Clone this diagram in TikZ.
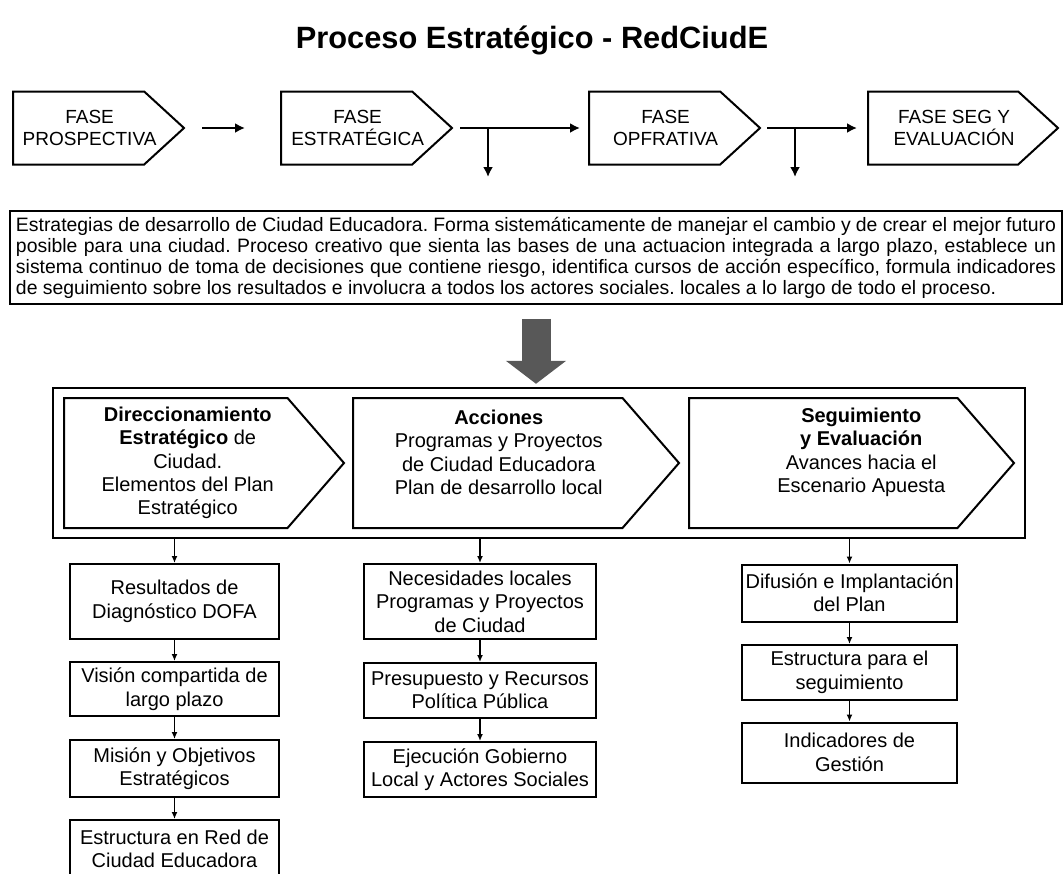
\documentclass[tikz,border=0pt]{standalone}
\usepackage{fontspec}
\setmainfont{Liberation Sans}
\usetikzlibrary{shapes.symbols,arrows.meta}

\definecolor{grisflecha}{RGB}{88,88,88}
\newcommand{\renglon}[1]{\makebox[520pt][s]{#1}}

\tikzset{
  fase/.style={signal, signal to=east, signal pointer angle=85, draw=black, line width=1pt, minimum height=36.5pt, minimum width=85.5pt, inner sep=0pt, label={[fasetexto]center:{#1}}},
  fasetexto/.style={align=center, inner sep=0pt, xshift=5.5pt, font=\fontsize{9.5}{11}\selectfont},
  etapa/.style={signal, signal to=east, signal pointer angle=98, draw=black, line width=1pt, minimum height=65pt, inner sep=0pt},
  etapatexto/.style={align=center, inner sep=0pt, font=\fontsize{10}{11.7}\selectfont},
  caja/.style={rectangle, draw=black, line width=1pt, inner sep=0pt, align=center, font=\fontsize{10}{11.7}\selectfont},
  flecha/.style={-{Latex[length=5pt,width=5pt]}, line width=1.4pt},
  baja/.style={-{Latex[length=3.5pt,width=3pt]}, line width=0.8pt},
}

\begin{document}
\begin{tikzpicture}[x=0.5pt,y=-0.5pt]
		\useasboundingbox (0,0) rectangle (1064,873);
		
		% Titulo
		\node[font=\fontsize{15.4}{18}\selectfont\bfseries] (titulo) at (532,40) {Proceso Estratégico - RedCiudE};
		
		% Fases
		\node[fase={FASE\\PROSPECTIVA}, anchor=west] (pro) at (12,128) {};
		\node[fase={FASE\\ESTRATÉGICA}, anchor=west] (est) at (280,128) {};
		\node[fase={FASE\\OPFRATIVA}, anchor=west] (ope) at (588,128) {};
		\node[fase={FASE SEG Y\\EVALUACIÓN}, anchor=west, minimum width=95pt] (seg) at (867,128) {};
		\coordinate (b1) at (488,177);
		\coordinate (b2) at (795,177);
		% Conectar fases
		\draw[flecha, shorten <=8.5pt, shorten >=17.5pt] (pro.east) -- (est.west);
		\draw[flecha, shorten <=3.5pt, shorten >=4pt] (est.east) -- (ope.west);
		\draw[flecha, shorten <=3pt, shorten >=5pt] (ope.east) -- (seg.west);
		\draw[flecha] (b1 |- est.east) -- (b1);
		\draw[flecha] (b2 |- ope.east) -- (b2);
		
		% Texto
		\node[rectangle, draw=black, line width=0.8pt, minimum width=526pt, minimum height=46.5pt, inner sep=0pt, align=left, font=\fontsize{9.7}{10.5}\selectfont\frenchspacing] (texto) at (536,257.5) {\renglon{Estrategias de desarrollo de Ciudad Educadora. Forma sistemáticamente de manejar el cambio y de crear el mejor futuro}\\\renglon{posible para una ciudad. Proceso creativo que sienta las bases de una actuacion integrada a largo plazo, establece un}\\\renglon{sistema continuo de toma de decisiones que contiene riesgo, identifica cursos de acción específico, formula indicadores}\\\makebox[520pt][l]{de seguimiento sobre los resultados e involucra a todos los actores sociales. locales a lo largo de todo el proceso.}};
		
		% Marco y etapas
		\node[rectangle, draw=black, line width=1.2pt, minimum width=486pt, minimum height=75pt, inner sep=0pt] (marco) at (539,463) {};
		\draw[grisflecha, line width=14.5pt, -{Triangle[length=11.5pt,width=29.5pt]}, shorten <=7pt, shorten >=1.5pt] (texto.south) -- (texto.south |- marco.north);
		\node[etapa, anchor=west, minimum width=140pt, label={[etapatexto, xshift=6pt]center:{\textbf{Direccionamiento}\\\textbf{Estratégico} de\\Ciudad.\\Elementos del Plan\\Estratégico}}] (dir) at (63,463) {};
		\node[etapa, anchor=west, minimum width=163pt, label={[etapatexto, xshift=5.5pt, yshift=5.25pt]center:{\textbf{Acciones}\\Programas y Proyectos\\de Ciudad Educadora\\Plan de desarrollo local}}] (acc) at (352,463) {};
		\node[etapa, anchor=west, minimum width=162.5pt, label={[etapatexto, xshift=19pt, yshift=5.25pt]center:{\textbf{Seguimiento}\\\textbf{y Evaluación}\\Avances hacia el\\Escenario Apuesta}}] (sye) at (688,463) {};
		
		% Columna izquierda
		\node[caja, minimum width=104.5pt, minimum height=37.5pt] (res) at (174.5,601.5) {Resultados de\\Diagnóstico DOFA};
		\node[caja, minimum width=104.5pt, minimum height=27pt] (vis) at (174.5,689) {Visión compartida de\\largo plazo};
		\node[caja, minimum width=104.5pt, minimum height=28.5pt] (mis) at (174.5,768.5) {Misión y Objetivos\\Estratégicos};
		\node[caja, minimum width=104.5pt, minimum height=29pt] (red) at (174.5,849) {Estructura en Red de\\Ciudad Educadora};
		% Columna central
		\node[caja, minimum width=116pt, minimum height=37.5pt] (nec) at (480,601.5) {Necesidades locales\\Programas y Proyectos\\de Ciudad};
		\node[caja, minimum width=116pt, minimum height=27.5pt] (pre) at (480,690.5) {Presupuesto y Recursos\\Política Pública};
		\node[caja, minimum width=116pt, minimum height=27.5pt] (eje) at (480,769.5) {Ejecución Gobierno\\Local y Actores Sociales};
		% Columna derecha
		\node[caja, minimum width=107.5pt, minimum height=28.5pt] (dif) at (849.5,593) {Difusión e Implantación\\del Plan};
		\node[caja, minimum width=107.5pt, minimum height=27.5pt] (ests) at (849.5,672.5) {Estructura para el\\seguimiento};
		\node[caja, minimum width=107.5pt, minimum height=30pt] (ind) at (849.5,752.5) {Indicadores de\\Gestión};
		
		% Connect
		\draw[baja] (marco.south -| res.north) -- (res);
		\draw[baja] (res) -- (vis);
		\draw[baja] (vis) -- (mis);
		\draw[baja] (mis) -- (red);
		\draw[baja] (marco.south -| nec.north) -- (nec);
		\draw[baja] (nec) -- (pre);
		\draw[baja] (pre) -- (eje);
		\draw[baja] (marco.south -| dif.north) -- (dif);
		\draw[baja] (dif) -- (ests);
		\draw[baja] (ests) -- (ind);
		
	\end{tikzpicture}
\end{document}
